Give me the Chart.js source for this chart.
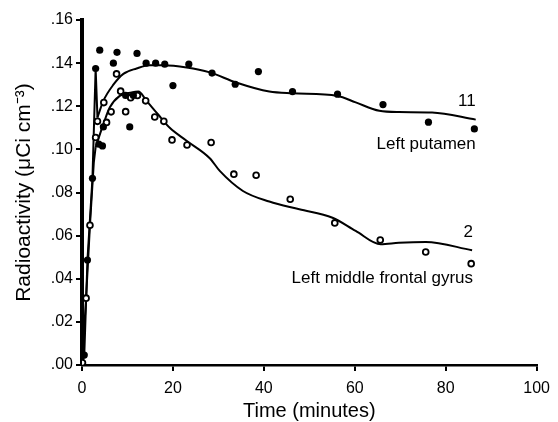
<!DOCTYPE html>
<html>
<head>
<meta charset="utf-8">
<script src="https://cdn.jsdelivr.net/npm/chart.js@4.4.1/dist/chart.umd.min.js"></script>
<style>
  html, body { margin: 0; padding: 0; background: #fff; }
  #c { display: block; }
</style>
</head>
<body>
<canvas id="c" width="558" height="422"></canvas>
<script>
// ---- Data ----
// Left putamen (filled circles)
const putamenT = [0.5, 1.2, 2.3, 3.0, 3.7, 4.5, 3.9, 4.7, 6.9, 7.7, 9.6, 11.3, 10.5, 12.1, 14.1, 16.2, 18.2, 20.0, 23.5, 28.6, 33.7, 38.8, 46.3, 56.2, 66.2, 76.2, 86.3];
const putamenV = [0.0046, 0.0487, 0.0866, 0.1375, 0.1024, 0.1016, 0.146, 0.1104, 0.140, 0.145, 0.125, 0.125, 0.1104, 0.1445, 0.140, 0.140, 0.1395, 0.1296, 0.1395, 0.1354, 0.1302, 0.1361, 0.1268, 0.1256, 0.1208, 0.1126, 0.1095];
// Left middle frontal gyrus (open circles)
const gyrusT = [0.1, 0.9, 1.75, 3.0, 3.4, 4.8, 5.4, 6.4, 7.6, 8.5, 9.6, 10.7, 12.2, 14.0, 16.0, 18.0, 19.8, 23.1, 28.4, 33.4, 38.3, 45.8, 55.6, 65.6, 75.6, 85.6];
const gyrusV = [0.001, 0.031, 0.0648, 0.1055, 0.113, 0.1217, 0.1125, 0.1174, 0.135, 0.127, 0.1175, 0.124, 0.125, 0.1225, 0.115, 0.113, 0.1044, 0.102, 0.1032, 0.0885, 0.088, 0.0769, 0.0659, 0.058, 0.0524, 0.047];
// Fitted curve for region 11 (putamen): early straight segments, then smooth fit
const early11T = [0, 0.5, 1.2, 2.3, 3.0, 3.4];
const early11V = [0, 0.0046, 0.0487, 0.0866, 0.1375, 0.1148];
const fit11T = [3.4, 4.7, 6.9, 9.1, 12, 14.9, 17.8, 23, 28.1, 33.9, 41.2, 46.3, 56.2, 60.2, 65.4, 69.7, 77, 86.6];
const fit11V = [0.1148, 0.1225, 0.130, 0.135, 0.1375, 0.139, 0.139, 0.138, 0.1357, 0.131, 0.1268, 0.126, 0.1248, 0.1218, 0.1179, 0.1173, 0.1171, 0.1138];
// Fitted curve for region 2 (frontal gyrus)
const early2T = [0, 0.9, 1.75, 2.6, 3.0];
const early2V = [0, 0.031, 0.0648, 0.094, 0.101];
const fit2T = [3.0, 4.7, 6.1, 8.3, 10.9, 12.4, 14.2, 16.7, 19.3, 23, 28.1, 30.3, 35.4, 41.2, 47.8, 55.1, 60.2, 65.7, 69.7, 75.6, 85.8];
const fit2V = [0.101, 0.1117, 0.1194, 0.1248, 0.1264, 0.1268, 0.1225, 0.1163, 0.110, 0.104, 0.0959, 0.090, 0.0807, 0.0758, 0.0722, 0.0683, 0.0622, 0.056, 0.0567, 0.0571, 0.0532];
// Axis ticks
const xTicks = [0, 20, 40, 60, 80, 100];
const yTicks = [0, 0.02, 0.04, 0.06, 0.08, 0.10, 0.12, 0.14, 0.16];
// Curve annotations
const noteTexts = ['11', 'Left putamen', '2', 'Left middle frontal gyrus'];
const noteT = [86.6, 86.6, 86.0, 86.0];
const noteV = [0.1221, 0.1022, 0.0614, 0.0402];

const pts = (T, V) => T.map((t, i) => ({ x: t, y: V[i] }));
const FONT = '"Liberation Sans", Arial, Helvetica, sans-serif';

const notesPlugin = {
  id: 'notes',
  afterDatasetsDraw(chart) {
    const { ctx, scales } = chart;
    ctx.save();
    ctx.fillStyle = '#000';
    ctx.font = '17px ' + FONT;
    ctx.textAlign = 'right';
    ctx.textBaseline = 'middle';
    noteTexts.forEach((s, i) => {
      ctx.fillText(s, scales.x.getPixelForValue(noteT[i]), scales.y.getPixelForValue(noteV[i]));
    });
    ctx.restore();
  }
};

const lineDs = (T, V, mode) => ({
  type: 'line',
  data: pts(T, V),
  borderColor: '#000',
  borderWidth: 2,
  pointRadius: 0,
  fill: false,
  tension: mode === 'smooth' ? 0.4 : 0,
  cubicInterpolationMode: mode === 'smooth' ? 'monotone' : 'default',
  order: 2
});

new Chart(document.getElementById('c'), {
  type: 'scatter',
  data: {
    datasets: [
      { data: pts(putamenT, putamenV), pointRadius: 3.6, pointBackgroundColor: '#000', pointBorderColor: '#000', pointBorderWidth: 0, showLine: false, order: 0 },
      { data: pts(gyrusT, gyrusV), pointRadius: 2.9, pointBackgroundColor: '#fff', pointBorderColor: '#000', pointBorderWidth: 1.8, showLine: false, order: 0 },
      lineDs(early11T, early11V, 'straight'),
      lineDs(fit11T, fit11V, 'smooth'),
      lineDs(early2T, early2V, 'straight'),
      lineDs(fit2T, fit2V, 'smooth')
    ]
  },
  options: {
    responsive: false,
    animation: false,
    events: [],
    layout: { padding: { top: 20, right: 20, left: 0, bottom: 0 } },
    plugins: { legend: { display: false }, tooltip: { enabled: false } },
    scales: {
      x: {
        type: 'linear',
        min: 0, max: 100,
        afterBuildTicks: (s) => { s.ticks = xTicks.map(v => ({ value: v })); },
        afterFit: (s) => { s.height = 57; },
        grid: { display: true, drawOnChartArea: false, drawTicks: true, tickLength: 6, color: '#000', lineWidth: 2 },
        border: { display: true, color: '#000', width: 2.5 },
        ticks: { color: '#000', font: { family: FONT, size: 16 }, padding: 8, maxRotation: 0 },
        title: { display: true, text: 'Time (minutes)', color: '#000', font: { family: FONT, size: 20, lineHeight: 1.0 }, padding: { top: 0, bottom: 1 } }
      },
      y: {
        type: 'linear',
        min: 0, max: 0.16,
        afterBuildTicks: (s) => { s.ticks = yTicks.map(v => ({ value: v })); },
        afterFit: (s) => { s.width = 82; },
        grid: { display: true, drawOnChartArea: false, drawTicks: true, tickLength: 6, color: '#000', lineWidth: 2 },
        border: { display: true, color: '#000', width: 4 },
        ticks: { color: '#000', font: { family: FONT, size: 16 }, padding: 3, callback: (v) => Number(v).toFixed(2).replace(/^0/, '') },
        title: { display: true, text: 'Radioactivity (\u03bcCi cm\u207b\u00b3)', color: '#000', font: { family: FONT, size: 21, lineHeight: 1.0 }, padding: { top: 14, bottom: 0 } }
      }
    }
  },
  plugins: [notesPlugin]
});
</script>
</body>
</html>
